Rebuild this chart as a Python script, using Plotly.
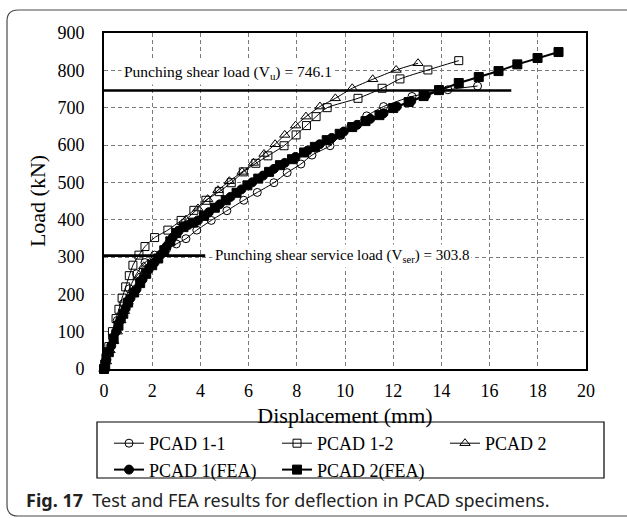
import plotly.graph_objects as go

# Load-displacement data (displacement in mm, load in kN)
pcad11_x = [0, 0.15, 0.35, 0.55, 0.8, 1.05, 1.35, 1.7, 2.1, 2.6, 3.0, 3.4, 3.85, 4.45, 5.1, 5.8,
            6.36, 7.05, 7.6, 8.17, 8.63, 9.38, 9.8, 10.24, 10.9, 11.6, 12.78, 14.27, 15.5]
pcad11_y = [0, 40, 85, 130, 175, 215, 255, 285, 305, 322, 335, 349, 372, 398, 424, 452,
            473, 499, 526, 549, 573, 598, 625, 649, 678, 703, 730, 748, 758]

pcad12_x = [0, 0.08, 0.2, 0.35, 0.5, 0.62, 0.75, 0.9, 1.05, 1.2, 1.45, 1.7, 2.1, 2.65, 3.2,
            3.73, 4.23, 4.78, 5.28, 5.78, 6.3, 6.8, 7.47, 7.97, 8.4, 8.8, 9.26, 10.54, 11.54,
            12.28, 13.44, 14.72]
pcad12_y = [0, 30, 60, 100, 135, 160, 190, 220, 250, 278, 305, 328, 352, 372, 398,
            425, 452, 475, 499, 528, 551, 571, 598, 627, 652, 676, 700, 725, 752,
            777, 801, 826]

pcad2_x = [0, 0.1, 0.25, 0.4, 0.55, 0.7, 0.85, 1.0, 1.2, 1.45, 1.65, 1.95, 2.2, 2.6, 3.0,
           3.4, 3.9, 4.3, 4.73, 5.2, 5.73, 6.2, 6.64, 7.1, 7.5, 7.95, 8.38, 8.96, 9.6, 10.3,
           11.15, 12.12, 13.03]
pcad2_y = [0, 20, 50, 75, 100, 130, 155, 180, 200, 245, 275, 283, 295, 335, 370,
           400, 430, 455, 479, 503, 528, 552, 576, 602, 627, 652, 676, 703, 725, 752,
           776, 801, 819]

fea1_x = [0, 0.1, 0.3, 0.5, 0.7, 0.9, 1.1, 1.35, 1.6, 1.85, 2.1, 2.35, 2.6, 2.85, 3.1, 3.5,
          3.9, 4.35, 4.8, 5.25, 5.7, 6.15, 6.6, 7.05, 7.5, 7.95, 8.45, 8.95, 9.45, 9.95,
          10.5, 11.05, 11.6, 12.15, 12.75, 13.35, 13.9]
fea1_y = [0, 25, 62, 100, 132, 162, 190, 214, 240, 266, 285, 306, 328, 352, 370, 386,
          398, 420, 441, 461, 481, 500, 518, 536, 552, 568, 585, 602, 619, 636,
          654, 670, 685, 703, 718, 733, 747]

fea2_x = [0, 0.05, 0.2, 0.4, 0.6, 0.8, 1.0, 1.25, 1.5, 1.75, 2.0, 2.25, 2.5, 2.75, 3.0, 3.3,
          3.7, 4.15, 4.6, 5.05, 5.5, 5.95, 6.4, 6.85, 7.3, 7.8, 8.3, 8.75, 9.24, 9.78, 10.3,
          10.85, 11.43, 12.0, 12.64, 13.26, 13.9, 14.72, 15.55, 16.37, 17.15, 17.99, 18.86]
fea2_y = [0, 12, 45, 80, 116, 148, 178, 205, 230, 255, 278, 296, 318, 342, 364, 380,
          392, 410, 432, 452, 472, 492, 510, 528, 546, 562, 580, 595, 613, 630, 648,
          664, 680, 699, 715, 731, 747, 766, 782, 798, 816, 833, 849]

# Reference load levels (kN) and the displacement extent of each guide line (mm)
v_u = 746.1
v_ser = 303.8
v_u_extent = [0, 16.9]
v_ser_extent = [0, 4.2]

x_ticks = list(range(0, 21, 2))
y_ticks = list(range(0, 901, 100))

SERIF = "Liberation Serif, Times New Roman, serif"

W, H = 627, 518
ML, MR, MT, MB = 104, 41, 33, 149
PW, PH = W - ML - MR, H - MT - MB


def px(x):
    return (x - ML) / PW


def py(y):
    return (H - MB - y) / PH


fig = go.Figure()

series = [
    ("PCAD 1-1", pcad11_x, pcad11_y, "circle-open", 8, 1.0, "spline"),
    ("PCAD 1-2", pcad12_x, pcad12_y, "square-open", 8, 1.0, "spline"),
    ("PCAD 2", pcad2_x, pcad2_y, "triangle-up-open", 9, 1.0, "spline"),
    ("PCAD 1(FEA)", fea1_x, fea1_y, "circle", 9, 2.0, "linear"),
    ("PCAD 2(FEA)", fea2_x, fea2_y, "square", 9, 2.0, "linear"),
]
for name, xs, ys, sym, size, lw, shape in series:
    fig.add_trace(go.Scatter(
        x=xs, y=ys, name=name, mode="lines+markers",
        line=dict(color="black", width=lw, shape=shape, smoothing=0.6),
        marker=dict(symbol=sym, size=size, color="black",
                    line=dict(color="black", width=1)),
        cliponaxis=False,
    ))

# Horizontal guide lines for the punching shear loads
for level, ext in ((v_u, v_u_extent), (v_ser, v_ser_extent)):
    fig.add_shape(type="line", xref="x", yref="y", x0=ext[0], x1=ext[1],
                  y0=level, y1=level, line=dict(color="black", width=2.6))

fig.add_annotation(x=0.72, y=793, xref="x", yref="y", xanchor="left", yanchor="middle",
                   text=f"Punching shear load (V<sub>u</sub>) = {v_u}",
                   showarrow=False, bgcolor="white", borderpad=2,
                   font=dict(family=SERIF, size=15.5, color="black"))
fig.add_annotation(x=4.5, y=v_ser, xref="x", yref="y", xanchor="left", yanchor="middle",
                   text=f"Punching shear service load (V<sub>ser</sub>) = {v_ser}",
                   showarrow=False, bgcolor="white", borderpad=2,
                   font=dict(family=SERIF, size=15, color="black"))

# Legend frame
fig.add_shape(type="rect", xref="paper", yref="paper",
              x0=px(97), x1=px(604), y0=py(422), y1=py(478),
              line=dict(color="black", width=1.2), fillcolor="rgba(0,0,0,0)")

# Rounded outer frame of the figure panel
l, t, r, b, rad = 7, 10, 660, 516, 11
path = (f"M {px(l)},{py(t + rad)} Q {px(l)},{py(t)} {px(l + rad)},{py(t)} "
        f"L {px(r)},{py(t)} L {px(r)},{py(b)} L {px(l + rad)},{py(b)} "
        f"Q {px(l)},{py(b)} {px(l)},{py(b - rad)} Z")
fig.add_shape(type="path", xref="paper", yref="paper", path=path,
              line=dict(color="#4a4a4a", width=1.2), fillcolor="rgba(0,0,0,0)", layer="below")

# Caption
fig.add_annotation(x=px(24), y=py(500), xref="paper", yref="paper",
                   xanchor="left", yanchor="middle", showarrow=False,
                   text="<b>Fig. 17</b>\u00a0\u00a0Test and FEA results for deflection in PCAD specimens.",
                   font=dict(family="Noto Sans, Open Sans, sans-serif", size=18, color="#222222"))

axis_common = dict(
    showgrid=True, gridcolor="#7a7a7a", gridwidth=1, griddash="4px,3px",
    showline=True, linecolor="black", linewidth=1.6, mirror=True,
    zeroline=False, ticks="", tickfont=dict(family=SERIF, size=18, color="black"),
)

fig.update_layout(
    width=W, height=H,
    margin=dict(l=ML, r=MR, t=MT, b=MB),
    paper_bgcolor="white", plot_bgcolor="white",
    font=dict(family=SERIF, color="black"),
    xaxis=dict(range=[0, 20], tickvals=x_ticks, ticklabelstandoff=5,
               title=dict(text="Displacement (mm)", font=dict(family=SERIF, size=22),
                          standoff=7),
               **axis_common),
    yaxis=dict(range=[0, 900], tickvals=y_ticks, ticklabelstandoff=14,
               title=dict(text="Load (kN)", font=dict(family=SERIF, size=22), standoff=6),
               **axis_common),
    legend=dict(orientation="h", x=px(95), y=py(425), xanchor="left", yanchor="top",
                entrywidth=109, entrywidthmode="pixels", indentation=14,
                font=dict(family=SERIF, size=18, color="black"),
                bgcolor="rgba(0,0,0,0)", borderwidth=0),
    showlegend=True,
)

fig.write_html("out.html")
